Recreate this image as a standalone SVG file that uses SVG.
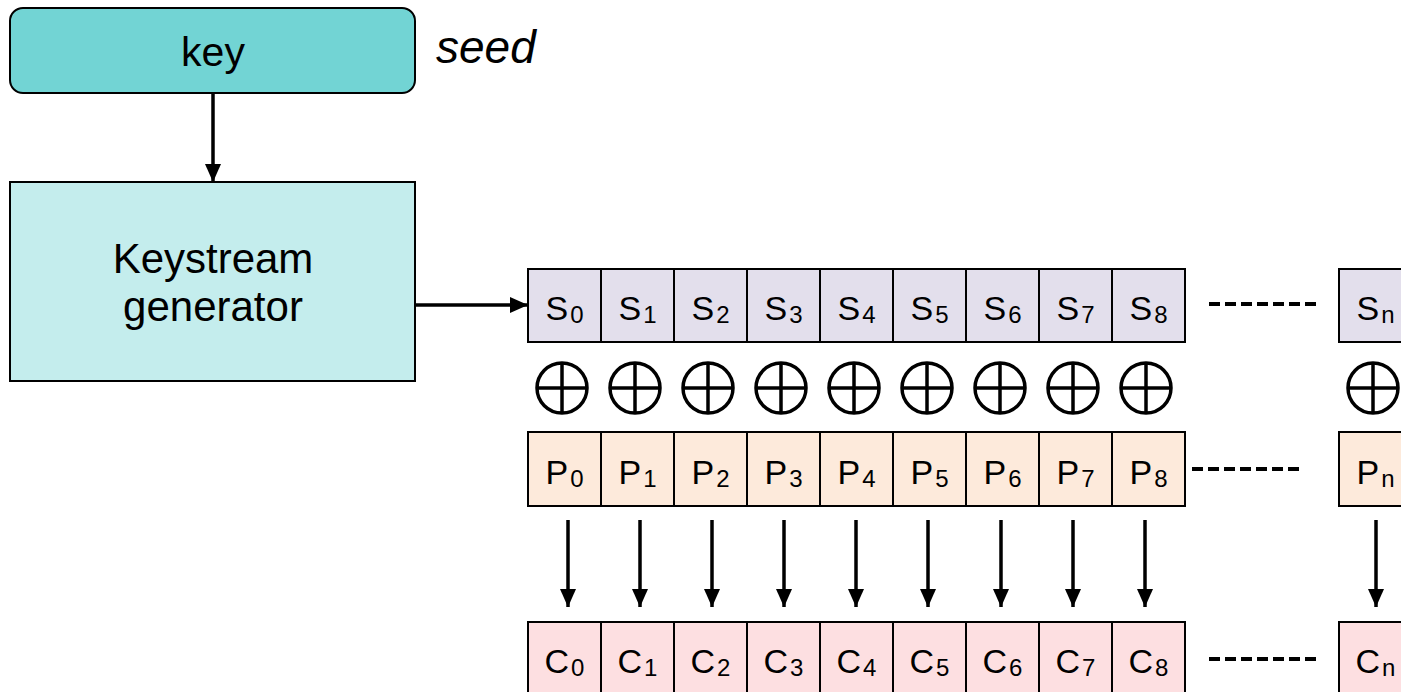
<svg xmlns="http://www.w3.org/2000/svg" width="1401" height="692" viewBox="0 0 1401 692">
<style>
  .lbl{font-family:"Liberation Sans",Arial,sans-serif;fill:#000}
  .big{font-size:42px}
  .cell{font-size:34px}
  .sub{font-size:24px}
  .box{stroke:#000;stroke-width:2}
  .s{fill:#e3dfec}
  .p{fill:#fdeadb}
  .c{fill:#fddfe1}
  .conn{stroke:#000;stroke-width:3.5;fill:none}
  .dash{stroke:#000;stroke-width:4;stroke-dasharray:11 5;fill:none}
  .xor{stroke:#000;stroke-width:3.5;fill:none}
</style>
<defs>
  <marker id="ah" viewBox="0 0 18 18" refX="18" refY="9" markerWidth="18" markerHeight="18" markerUnits="userSpaceOnUse" orient="auto">
    <path d="M0,1 L18,9 L0,17 Z" fill="#000"/>
  </marker>
  <g id="xorsym">
    <circle cx="0" cy="0" r="25" class="xor"/>
    <line x1="-25" y1="0" x2="25" y2="0" class="xor"/>
    <line x1="0" y1="-25" x2="0" y2="25" class="xor"/>
  </g>
</defs>
<rect width="1401" height="692" fill="#fff"/>

<g id="connectors">
  <line x1="213" y1="93" x2="213" y2="182" class="conn" marker-end="url(#ah)"/>
  <line x1="416" y1="305" x2="528" y2="305" class="conn" marker-end="url(#ah)"/>
  <line x1="568" y1="520" x2="568" y2="607" class="conn" marker-end="url(#ah)"/>
  <line x1="640" y1="520" x2="640" y2="607" class="conn" marker-end="url(#ah)"/>
  <line x1="712" y1="520" x2="712" y2="607" class="conn" marker-end="url(#ah)"/>
  <line x1="784" y1="520" x2="784" y2="607" class="conn" marker-end="url(#ah)"/>
  <line x1="856" y1="520" x2="856" y2="607" class="conn" marker-end="url(#ah)"/>
  <line x1="928" y1="520" x2="928" y2="607" class="conn" marker-end="url(#ah)"/>
  <line x1="1001" y1="520" x2="1001" y2="607" class="conn" marker-end="url(#ah)"/>
  <line x1="1073" y1="520" x2="1073" y2="607" class="conn" marker-end="url(#ah)"/>
  <line x1="1145" y1="520" x2="1145" y2="607" class="conn" marker-end="url(#ah)"/>
  <line x1="1376" y1="520" x2="1376" y2="607" class="conn" marker-end="url(#ah)"/>
  <line x1="1209" y1="304" x2="1317" y2="304" class="dash"/>
  <line x1="1192" y1="469" x2="1300" y2="469" class="dash"/>
  <line x1="1209" y1="659" x2="1317" y2="659" class="dash"/>
</g>

<g id="key">
  <rect x="10" y="8" width="405" height="85" rx="13" fill="#72d4d4" class="box"/>
  <text x="213" y="66" text-anchor="middle" class="lbl" font-size="41">key</text>
</g>
<g id="seed">
  <text x="436" y="63" class="lbl" font-size="46" font-style="italic">seed</text>
</g>
<g id="keystream-generator">
  <rect x="10" y="182" width="405" height="199" fill="#c4eded" class="box"/>
  <text x="213" y="273" text-anchor="middle" class="lbl big">Keystream</text>
  <text x="213" y="321" text-anchor="middle" class="lbl big">generator</text>
</g>

<g id="s-row">
  <rect x="528" y="269" width="73" height="73" class="box s"/>
  <rect x="601" y="269" width="73" height="73" class="box s"/>
  <rect x="674" y="269" width="73" height="73" class="box s"/>
  <rect x="747" y="269" width="73" height="73" class="box s"/>
  <rect x="820" y="269" width="73" height="73" class="box s"/>
  <rect x="893" y="269" width="73" height="73" class="box s"/>
  <rect x="966" y="269" width="73" height="73" class="box s"/>
  <rect x="1039" y="269" width="73" height="73" class="box s"/>
  <rect x="1112" y="269" width="73" height="73" class="box s"/>
  <rect x="1339" y="269" width="73" height="73" class="box s"/>
  <g class="lbl cell" text-anchor="middle">
    <text x="564.5" y="320">S<tspan class="sub" dx="2" dy="3">0</tspan></text>
    <text x="637.5" y="320">S<tspan class="sub" dx="2" dy="3">1</tspan></text>
    <text x="710.5" y="320">S<tspan class="sub" dx="2" dy="3">2</tspan></text>
    <text x="783.5" y="320">S<tspan class="sub" dx="2" dy="3">3</tspan></text>
    <text x="856.5" y="320">S<tspan class="sub" dx="2" dy="3">4</tspan></text>
    <text x="929.5" y="320">S<tspan class="sub" dx="2" dy="3">5</tspan></text>
    <text x="1002.5" y="320">S<tspan class="sub" dx="2" dy="3">6</tspan></text>
    <text x="1075.5" y="320">S<tspan class="sub" dx="2" dy="3">7</tspan></text>
    <text x="1148.5" y="320">S<tspan class="sub" dx="2" dy="3">8</tspan></text>
    <text x="1375.5" y="320">S<tspan class="sub" dx="2" dy="3">n</tspan></text>
  </g>
</g>

<g id="xor-row">
  <use href="#xorsym" x="562" y="388"/>
  <use href="#xorsym" x="635" y="388"/>
  <use href="#xorsym" x="708" y="388"/>
  <use href="#xorsym" x="781" y="388"/>
  <use href="#xorsym" x="854" y="388"/>
  <use href="#xorsym" x="927" y="388"/>
  <use href="#xorsym" x="1000" y="388"/>
  <use href="#xorsym" x="1073" y="388"/>
  <use href="#xorsym" x="1146" y="388"/>
  <use href="#xorsym" x="1373" y="388"/>
</g>

<g id="p-row">
  <rect x="528" y="432" width="73" height="74" class="box p"/>
  <rect x="601" y="432" width="73" height="74" class="box p"/>
  <rect x="674" y="432" width="73" height="74" class="box p"/>
  <rect x="747" y="432" width="73" height="74" class="box p"/>
  <rect x="820" y="432" width="73" height="74" class="box p"/>
  <rect x="893" y="432" width="73" height="74" class="box p"/>
  <rect x="966" y="432" width="73" height="74" class="box p"/>
  <rect x="1039" y="432" width="73" height="74" class="box p"/>
  <rect x="1112" y="432" width="73" height="74" class="box p"/>
  <rect x="1339" y="432" width="73" height="74" class="box p"/>
  <g class="lbl cell" text-anchor="middle">
    <text x="564.5" y="484">P<tspan class="sub" dx="2" dy="3">0</tspan></text>
    <text x="637.5" y="484">P<tspan class="sub" dx="2" dy="3">1</tspan></text>
    <text x="710.5" y="484">P<tspan class="sub" dx="2" dy="3">2</tspan></text>
    <text x="783.5" y="484">P<tspan class="sub" dx="2" dy="3">3</tspan></text>
    <text x="856.5" y="484">P<tspan class="sub" dx="2" dy="3">4</tspan></text>
    <text x="929.5" y="484">P<tspan class="sub" dx="2" dy="3">5</tspan></text>
    <text x="1002.5" y="484">P<tspan class="sub" dx="2" dy="3">6</tspan></text>
    <text x="1075.5" y="484">P<tspan class="sub" dx="2" dy="3">7</tspan></text>
    <text x="1148.5" y="484">P<tspan class="sub" dx="2" dy="3">8</tspan></text>
    <text x="1375.5" y="484">P<tspan class="sub" dx="2" dy="3">n</tspan></text>
  </g>
</g>

<g id="c-row">
  <rect x="528" y="622" width="73" height="74" class="box c"/>
  <rect x="601" y="622" width="73" height="74" class="box c"/>
  <rect x="674" y="622" width="73" height="74" class="box c"/>
  <rect x="747" y="622" width="73" height="74" class="box c"/>
  <rect x="820" y="622" width="73" height="74" class="box c"/>
  <rect x="893" y="622" width="73" height="74" class="box c"/>
  <rect x="966" y="622" width="73" height="74" class="box c"/>
  <rect x="1039" y="622" width="73" height="74" class="box c"/>
  <rect x="1112" y="622" width="73" height="74" class="box c"/>
  <rect x="1339" y="622" width="73" height="74" class="box c"/>
  <g class="lbl cell" text-anchor="middle">
    <text x="564.5" y="673">C<tspan class="sub" dx="2" dy="3">0</tspan></text>
    <text x="637.5" y="673">C<tspan class="sub" dx="2" dy="3">1</tspan></text>
    <text x="710.5" y="673">C<tspan class="sub" dx="2" dy="3">2</tspan></text>
    <text x="783.5" y="673">C<tspan class="sub" dx="2" dy="3">3</tspan></text>
    <text x="856.5" y="673">C<tspan class="sub" dx="2" dy="3">4</tspan></text>
    <text x="929.5" y="673">C<tspan class="sub" dx="2" dy="3">5</tspan></text>
    <text x="1002.5" y="673">C<tspan class="sub" dx="2" dy="3">6</tspan></text>
    <text x="1075.5" y="673">C<tspan class="sub" dx="2" dy="3">7</tspan></text>
    <text x="1148.5" y="673">C<tspan class="sub" dx="2" dy="3">8</tspan></text>
    <text x="1375.5" y="673">C<tspan class="sub" dx="2" dy="3">n</tspan></text>
  </g>
</g>
</svg>
